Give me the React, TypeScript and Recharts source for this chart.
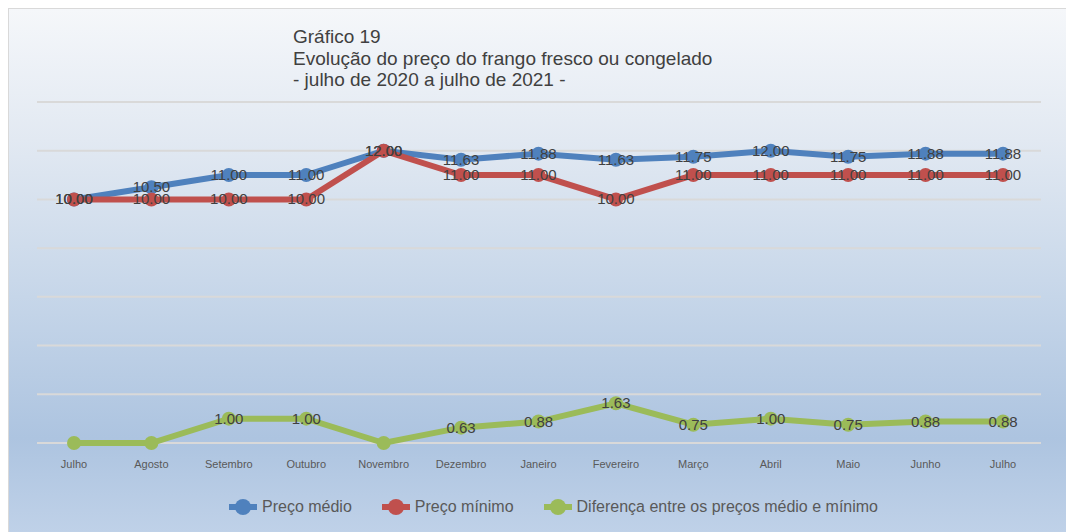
import { LineChart, Line, XAxis, YAxis, CartesianGrid } from 'recharts';

const months = ['Julho', 'Agosto', 'Setembro', 'Outubro', 'Novembro', 'Dezembro', 'Janeiro', 'Fevereiro', 'Março', 'Abril', 'Maio', 'Junho', 'Julho'];
const precoMedio = [10.0, 10.5, 11.0, 11.0, 12.0, 11.63, 11.88, 11.63, 11.75, 12.0, 11.75, 11.88, 11.88];
const precoMinimo = [10.0, 10.0, 10.0, 10.0, 12.0, 11.0, 11.0, 10.0, 11.0, 11.0, 11.0, 11.0, 11.0];
const diferenca = [0, 0, 1.0, 1.0, 0, 0.63, 0.88, 1.63, 0.75, 1.0, 0.75, 0.88, 0.88];
const yTicks = [0, 2, 4, 6, 8, 10, 12, 14];

const titleLines = ['Gráfico 19', 'Evolução do preço do frango fresco ou congelado', '- julho de 2020 a julho de 2021 -'];

const SERIES = [
  { key: 'medio', name: 'Preço médio', color: '#4f81bd' },
  { key: 'minimo', name: 'Preço mínimo', color: '#c0504d' },
  { key: 'dif', name: 'Diferença entre os preços médio e mínimo', color: '#9bbb59' },
];

const data = months.map((m, i) => ({
  month: m,
  medio: precoMedio[i],
  minimo: precoMinimo[i],
  dif: diferenca[i],
}));

const FONT = '"Liberation Sans", Arial, sans-serif';

// zero values carry no label in the original
const renderLabel = (props: any) => {
  const { x, y, value, index } = props;
  if (!value) return null;
  return (
    <text
      key={`lbl-${index}`}
      x={x}
      y={y}
      dy={5}
      textAnchor="middle"
      fontSize={15}
      fontFamily={FONT}
      fill="#404040"
    >
      {Number(value).toFixed(2)}
    </text>
  );
};

export default function App() {
  return (
    <div
      style={{
        position: 'relative',
        width: 1059,
        height: 524,
        boxSizing: 'border-box',
        border: '1px solid #d9d9d9',
        borderBottom: 'none',
        background: 'linear-gradient(to bottom, #f5f7fa 0%, #e2e9f2 25%, #c6d6e9 55%, #adc4e0 82%, #bfd1e8 100%)',
        fontFamily: FONT,
        overflow: 'hidden',
      }}
    >
      <div style={{ position: 'absolute', left: 284, top: 17, color: '#404040', fontSize: 19, lineHeight: '21.5px' }}>
        {titleLines.map((t, i) => (
          <div key={i}>{t}</div>
        ))}
      </div>
      <div style={{ position: 'absolute', left: 0, top: 0 }}>
        <LineChart width={1056} height={523} data={data} margin={{ top: 93, right: 24, bottom: 59, left: 28 }}>
          <CartesianGrid horizontal vertical={false} stroke="#d9d9d9" strokeWidth={2} />
          <XAxis
            dataKey="month"
            axisLine={false}
            tickLine={false}
            height={30}
            tickMargin={11}
            padding={{ left: 37, right: 38 }}
            tick={{ fontSize: 11, fill: '#595959', fontFamily: FONT }}
            interval={0}
          />
          <YAxis hide domain={[0, 14]} ticks={yTicks} type="number" />
          {SERIES.map((s) => (
            <Line
              key={s.key}
              dataKey={s.key}
              name={s.name}
              stroke={s.color}
              strokeWidth={6}
              dot={{ r: 7, fill: s.color, stroke: s.color, strokeWidth: 0 }}
              activeDot={false}
              isAnimationActive={false}
              label={renderLabel}
            />
          ))}
        </LineChart>
      </div>
      <div
        style={{
          position: 'absolute',
          left: 0,
          width: '100%',
          top: 488,
          display: 'flex',
          justifyContent: 'center',
          gap: 30,
          paddingLeft: 32,
          boxSizing: 'border-box',
          color: '#595959',
          fontSize: 16,
        }}
      >
        {SERIES.map((s) => (
          <div key={s.key} style={{ display: 'flex', alignItems: 'center' }}>
            <svg width={28} height={20} style={{ marginRight: 5 }}>
              <line x1={0} y1={10} x2={28} y2={10} stroke={s.color} strokeWidth={6} />
              <circle cx={14} cy={10} r={8} fill={s.color} />
            </svg>
            <span>{s.name}</span>
          </div>
        ))}
      </div>
    </div>
  );
}
